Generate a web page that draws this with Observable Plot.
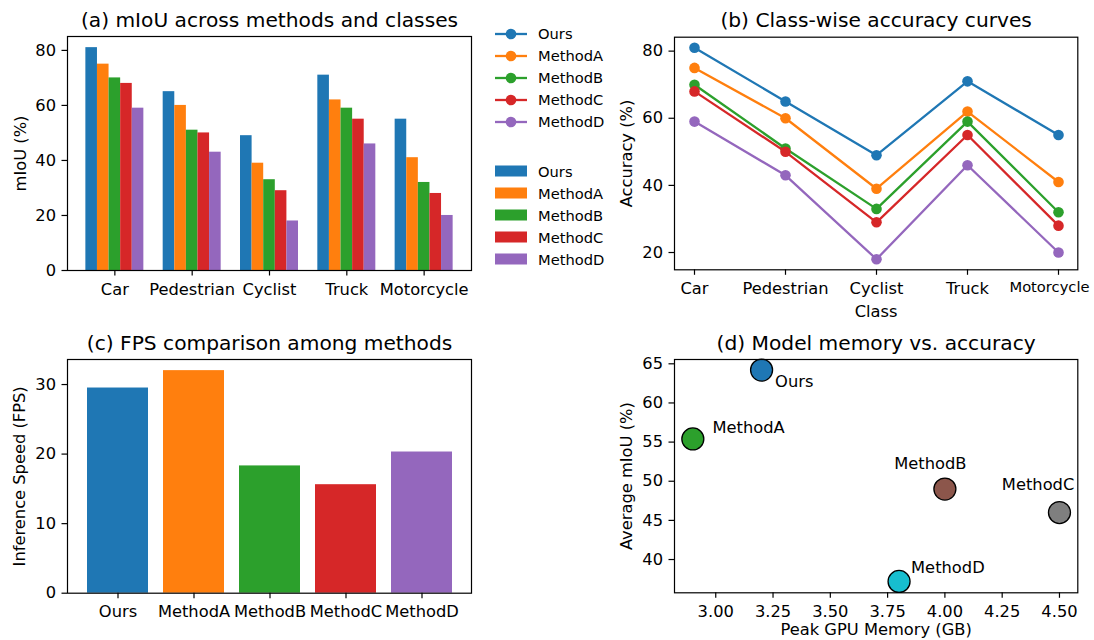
<!DOCTYPE html>
<html>
<head>
<meta charset="utf-8">
<script src="https://cdn.jsdelivr.net/npm/d3@7"></script>
<script src="https://cdn.jsdelivr.net/npm/@observablehq/plot@0.6"></script>
<style>
  body { margin: 0; background: #fff; }
  #root { position: relative; width: 1094px; height: 640px; background: #fff; font-family: "DejaVu Sans", sans-serif; overflow: hidden; }
  .panel { position: absolute; }
  .legend { position: absolute; font-size: 14.7px; color: #000; font-family: "DejaVu Sans", sans-serif; }
  .legend .row { display: flex; align-items: center; height: 22px; white-space: nowrap; }
  .legend svg { display: block; }
  .legend span { margin-left: 11px; }
</style>
</head>
<body>
<div id="root"></div>
<script>
// ---------------- data ----------------
const classes = ["Car", "Pedestrian", "Cyclist", "Truck", "Motorcycle"];
const methods = ["Ours", "MethodA", "MethodB", "MethodC", "MethodD"];

// per-class mIoU / accuracy (%) for each method
const scoreOurs    = [81, 65, 49, 71, 55];
const scoreMethodA = [75, 60, 39, 62, 41];
const scoreMethodB = [70, 51, 33, 59, 32];
const scoreMethodC = [68, 50, 29, 55, 28];
const scoreMethodD = [59, 43, 18, 46, 20];

// inference speed (FPS)
const fps = [29.5, 32.0, 18.3, 15.6, 20.3];

// peak GPU memory (GB) and average mIoU (%)
const memoryGB = [3.2, 2.9, 4.0, 4.5, 3.8];
const avgMiou  = [64.2, 55.4, 49.0, 46.0, 37.2];

// tick values
const yTicksA = [0, 20, 40, 60, 80];
const yTicksB = [20, 40, 60, 80];
const yTicksC = [0, 10, 20, 30];
const xTicksD = [3.0, 3.25, 3.5, 3.75, 4.0, 4.25, 4.5];
const yTicksD = [40, 45, 50, 55, 60, 65];

// ---------------- styles ----------------
const tab10 = ["#1f77b4", "#ff7f0e", "#2ca02c", "#d62728", "#9467bd"];
const scatterColors = ["#1f77b4", "#2ca02c", "#8c564b", "#7f7f7f", "#17becf"];
const FS = 16.3, TITLE_FS = 20.2;
const svgStyle = { fontFamily: "DejaVu Sans, sans-serif", fontSize: FS + "px", color: "#000", background: "transparent", overflow: "visible" };
const axisOpts = { tickSize: 5.5, strokeWidth: 1.2, fontSize: FS, label: null };
const frame = () => Plot.frame({ stroke: "#000", strokeWidth: 1.2 });
const centered = { textAnchor: "middle", lineAnchor: "middle" };

const root = document.getElementById("root");
function place(el, left, top) {
  el.classList.add("panel");
  el.style.left = left + "px";
  el.style.top = top + "px";
  root.appendChild(el);
}

const series = [scoreOurs, scoreMethodA, scoreMethodB, scoreMethodC, scoreMethodD];
const rows = methods.flatMap((m, j) => classes.map((c, i) => ({ cls: c, i, j, method: m, value: series[j][i] })));

// ---------------- (a) grouped bars ----------------
const bw = 0.15;
const chartA = Plot.plot({
  width: 480, height: 310,
  marginTop: 36, marginLeft: 67, marginRight: 9, marginBottom: 40,
  style: svgStyle,
  x: { domain: [-0.6125, 4.6125] },
  y: { domain: [0, 85.05] },
  color: { domain: methods, range: tab10 },
  marks: [
    Plot.rectY(rows, { x1: d => d.i + (d.j - 2) * bw - bw / 2, x2: d => d.i + (d.j - 2) * bw + bw / 2, y1: 0, y2: "value", fill: "method" }),
    frame(),
    Plot.axisY({ ...axisOpts, ticks: yTicksA, tickPadding: 6 }),
    Plot.axisX({ ...axisOpts, ticks: [0, 1, 2, 3, 4], tickFormat: i => classes[i], tickPadding: 7 }),
    Plot.text(["(a) mIoU across methods and classes"], { ...centered, text: d => d, frameAnchor: "top", dy: -16, fontSize: TITLE_FS }),
    Plot.text(["mIoU (%)"], { ...centered, text: d => d, frameAnchor: "left", rotate: -90, dx: -47, fontSize: FS })
  ]
});
place(chartA, 0, 0);

// ---------------- (b) line chart ----------------
const lineMarks = methods.flatMap(m => {
  const data = rows.filter(d => d.method === m);
  return [
    Plot.line(data, { x: "cls", y: "value", stroke: "method", strokeWidth: 2.3 }),
    Plot.dot(data, { x: "cls", y: "value", fill: "method", r: 5.3 })
  ];
});
const lastClass = classes[classes.length - 1];
const chartB = Plot.plot({
  width: 614, height: 330,
  marginTop: 36.7, marginLeft: 194, marginRight: 16.7, marginBottom: 60.7,
  style: svgStyle,
  x: { type: "point", domain: classes, padding: 0.2 },
  y: { domain: [14.85, 84.15] },
  color: { domain: methods, range: tab10 },
  marks: [
    ...lineMarks,
    frame(),
    Plot.axisY({ ...axisOpts, ticks: yTicksB, tickPadding: 6 }),
    Plot.axisX({ ...axisOpts, ticks: classes, tickFormat: d => (d === lastClass ? "" : d), tickPadding: 7 }),
    Plot.axisX({ ...axisOpts, ticks: [lastClass], tickSize: 0, tickPadding: 12, fontSize: 14.7, dx: -9 }),
    Plot.text(["(b) Class-wise accuracy curves"], { ...centered, text: d => d, frameAnchor: "top", dy: -16.7, fontSize: TITLE_FS }),
    Plot.text(["Accuracy (%)"], { ...centered, text: d => d, frameAnchor: "left", rotate: -90, dx: -48, fontSize: FS }),
    Plot.text(["Class"], { ...centered, text: d => d, frameAnchor: "bottom", dy: 42.4, fontSize: FS })
  ]
});
place(chartB, 480, 0);

// legends for (a)/(b)
function legend(top, kind) {
  const div = d3.select(root).append("div").attr("class", "legend").style("left", "495px").style("top", top + "px");
  methods.forEach((m, j) => {
    const row = div.append("div").attr("class", "row");
    const svg = row.append("svg").attr("width", 32).attr("height", 22);
    if (kind === "line") {
      svg.append("line").attr("x1", 0).attr("x2", 32).attr("y1", 11).attr("y2", 11).attr("stroke", tab10[j]).attr("stroke-width", 2.3);
      svg.append("circle").attr("cx", 16).attr("cy", 11).attr("r", 5.3).attr("fill", tab10[j]);
    } else {
      svg.append("rect").attr("x", 0).attr("y", 5.5).attr("width", 32).attr("height", 11).attr("fill", tab10[j]);
    }
    row.append("span").text(m);
  });
}
legend(22.7, "line");
legend(160, "patch");

// ---------------- (c) FPS bars ----------------
const fpsRows = methods.map((m, i) => ({ method: m, fps: fps[i] }));
const chartC = Plot.plot({
  width: 480, height: 320,
  marginTop: 39, marginLeft: 67, marginRight: 9, marginBottom: 47.3,
  style: svgStyle,
  x: { type: "band", domain: methods, paddingInner: 0.2, paddingOuter: 0.24 },
  y: { domain: [0, 33.6] },
  color: { domain: methods, range: tab10 },
  marks: [
    Plot.barY(fpsRows, { x: "method", y: "fps", fill: "method" }),
    frame(),
    Plot.axisY({ ...axisOpts, ticks: yTicksC, tickPadding: 6 }),
    Plot.axisX({ ...axisOpts, tickPadding: 7 }),
    Plot.text(["(c) FPS comparison among methods"], { ...centered, text: d => d, frameAnchor: "top", dy: -16.3, fontSize: TITLE_FS }),
    Plot.text(["Inference Speed (FPS)"], { ...centered, text: d => d, frameAnchor: "left", rotate: -90, dx: -48, fontSize: FS })
  ]
});
place(chartC, 0, 320);

// ---------------- (d) scatter ----------------
const pts = methods.map((m, i) => ({ method: m, mem: memoryGB[i], miou: avgMiou[i] }));
const labelOffset = { Ours: [13.5, 11.4], MethodA: [19.6, -11.6], MethodB: [-50.6, -25], MethodC: [-57.6, -28], MethodD: [12, -13.4] };
const chartD = Plot.plot({
  width: 504, height: 320,
  marginTop: 39, marginLeft: 84, marginRight: 16.7, marginBottom: 47.7,
  style: svgStyle,
  x: { domain: [2.82, 4.58] },
  y: { domain: [35.75, 65.55] },
  color: { domain: methods, range: scatterColors },
  marks: [
    Plot.dot(pts, { x: "mem", y: "miou", fill: "method", stroke: "#000", strokeWidth: 1.3, r: 11 }),
    ...pts.map(p => Plot.text([p], { x: "mem", y: "miou", text: "method", textAnchor: "start", lineAnchor: "middle", dx: labelOffset[p.method][0], dy: labelOffset[p.method][1], fontSize: FS })),
    frame(),
    Plot.axisY({ ...axisOpts, ticks: yTicksD, tickPadding: 6 }),
    Plot.axisX({ ...axisOpts, ticks: xTicksD, tickFormat: d3.format(".2f"), tickPadding: 7 }),
    Plot.text(["(d) Model memory vs. accuracy"], { ...centered, text: d => d, frameAnchor: "top", dy: -16.3, fontSize: TITLE_FS }),
    Plot.text(["Average mIoU (%)"], { ...centered, text: d => d, frameAnchor: "left", rotate: -90, dx: -48, fontSize: FS }),
    Plot.text(["Peak GPU Memory (GB)"], { ...centered, text: d => d, frameAnchor: "bottom", dy: 37, fontSize: FS })
  ]
});
place(chartD, 590, 320);
</script>
</body>
</html>
